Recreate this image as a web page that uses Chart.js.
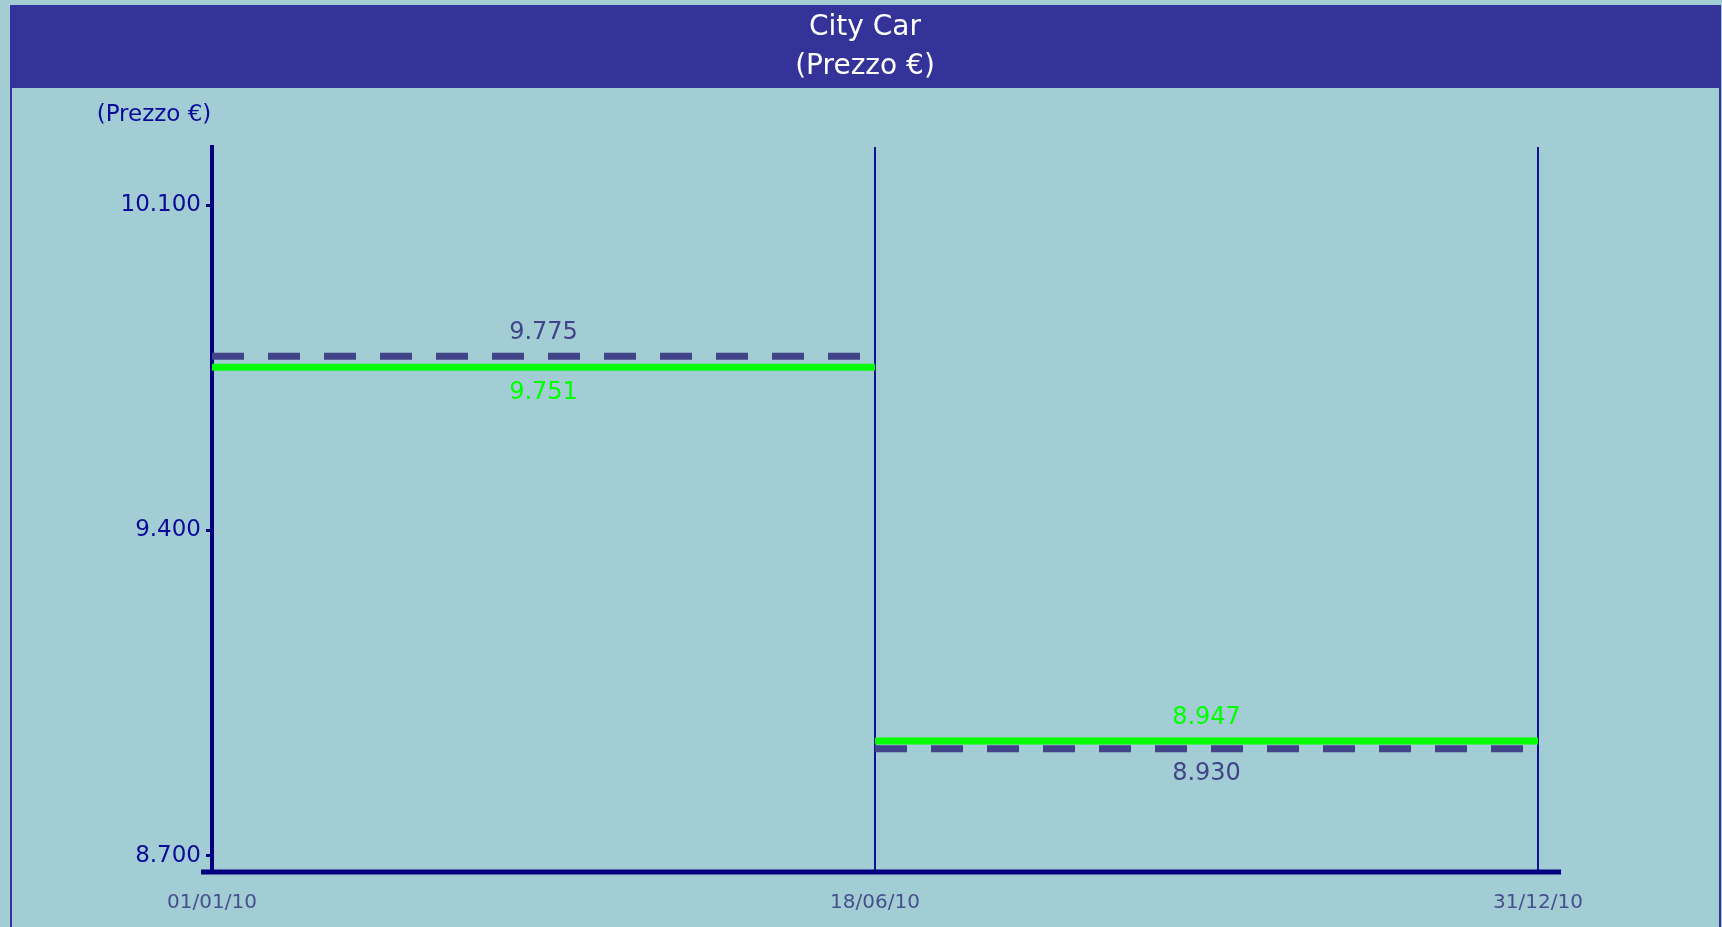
<!DOCTYPE html>
<html>
<head>
<meta charset="utf-8">
<script src="https://cdn.jsdelivr.net/npm/chart.js@4.4.1/dist/chart.umd.min.js"></script>
<style>
  html, body { margin: 0; padding: 0; background: #a3cdd4; overflow: hidden; }
  canvas { display: block; }
</style>
</head>
<body>
<canvas id="prezzoChart" width="1722" height="927"></canvas>
<script>
// Dati
const periods = ['01/01/10', '18/06/10', '31/12/10'];
const prezzoPieno = [9751, 8947];          // linea verde continua
const prezzoTratteggiato = [9775, 8930];   // linea tratteggiata
const yTicks = [8700, 9400, 10100];
const titleLines = ['City Car', '(Prezzo €)'];

const NAVY = '#000080';
const GREEN = '#00ff00';
const DASH = '#414489';

// 10100 -> "10.100"
function fmt(v) {
    return String(v).replace(/\B(?=(\d{3})+(?!\d))/g, '.');
}

// each value is a flat segment between two consecutive dates
function segmentPoints(values) {
    const pts = [];
    values.forEach((v, i) => {
        pts.push({ x: i, y: v }, { x: i + 1, y: v });
        if (i < values.length - 1) pts.push({ x: i + 1, y: null });
    });
    return pts;
}

// background, blue frame and title band (title centred on the whole frame)
const framePlugin = {
    id: 'frame',
    beforeDraw(chart) {
        const ctx = chart.ctx;
        ctx.save();
        ctx.fillStyle = '#a3cdd4';
        ctx.fillRect(0, 0, chart.width, chart.height);
        ctx.fillStyle = '#333399';
        ctx.fillRect(10, 5, 1711, 83);
        ctx.fillRect(10, 88, 2, chart.height - 88);
        ctx.fillRect(1719, 88, 2, chart.height - 88);

        ctx.fillStyle = '#ffffff';
        ctx.font = '28px "DejaVu Sans"';
        ctx.textAlign = 'center';
        ctx.textBaseline = 'middle';
        ctx.fillText(titleLines[0], 865, 28);
        ctx.fillText(titleLines[1], 865, 67);
        ctx.restore();
    }
};

// value labels on the segments and the axis caption
const labelsPlugin = {
    id: 'valueLabels',
    afterDraw(chart) {
        const ctx = chart.ctx;
        const x = chart.scales.x;
        const y = chart.scales.y;
        const area = chart.chartArea;
        ctx.save();

        // x axis line runs a bit past the plot on both sides
        ctx.strokeStyle = NAVY;
        ctx.lineWidth = 5;
        ctx.beginPath();
        ctx.moveTo(area.left - 11, area.bottom);
        ctx.lineTo(area.right + 23, area.bottom);
        ctx.stroke();

        ctx.font = '24px "DejaVu Sans"';
        ctx.textAlign = 'center';
        ctx.textBaseline = 'middle';
        prezzoPieno.forEach((v, i) => {
            const xm = (x.getPixelForValue(i) + x.getPixelForValue(i + 1)) / 2;
            const d = prezzoTratteggiato[i];
            ctx.fillStyle = GREEN;
            ctx.fillText(fmt(v), xm, y.getPixelForValue(v) + (v >= d ? -23 : 25));
            ctx.fillStyle = DASH;
            ctx.fillText(fmt(d), xm, y.getPixelForValue(d) + (d > v ? -23 : 25));
        });

        ctx.font = '23px "DejaVu Sans"';
        ctx.fillStyle = '#0a0a99';
        ctx.fillText('(Prezzo €)', area.left - 58, area.top - 32);
        ctx.restore();
    }
};

Chart.defaults.font.family = '"DejaVu Sans", Verdana, sans-serif';

const ctx = document.getElementById('prezzoChart').getContext('2d');
const chart = new Chart(ctx, {
    type: 'line',
    data: {
        datasets: [{
            data: segmentPoints(prezzoPieno),
            borderColor: GREEN,
            borderWidth: 7,
            pointRadius: 0,
            spanGaps: false
        }, {
            data: segmentPoints(prezzoTratteggiato),
            borderColor: DASH,
            borderWidth: 7,
            borderDash: [32, 24],
            borderCapStyle: 'butt',
            pointRadius: 0,
            spanGaps: false
        }]
    },
    options: {
        responsive: false,
        animation: false,
        devicePixelRatio: 1,
        layout: { padding: { left: 0, right: 184, top: 147, bottom: 0 } },
        plugins: {
            legend: { display: false },
            tooltip: { enabled: false },
            title: { display: false }
        },
        scales: {
            x: {
                type: 'linear',
                min: 0,
                max: periods.length - 1,
                afterBuildTicks: (scale) => {
                    scale.ticks = periods.map((p, i) => ({ value: i }));
                },
                afterFit: (scale) => { scale.height = 55; },
                grid: { color: '#12128c', lineWidth: 2, drawTicks: false },
                border: { display: false },
                ticks: {
                    color: '#46508c',
                    font: { size: 20 },
                    padding: 19,
                    maxRotation: 0,
                    callback: (v) => periods[v]
                }
            },
            y: {
                min: 8665,
                max: 10225,
                afterBuildTicks: (scale) => {
                    scale.ticks = yTicks.map(v => ({ value: v }));
                },
                afterFit: (scale) => { scale.width = 212; },
                grid: {
                    drawOnChartArea: false,
                    drawTicks: true,
                    tickLength: 6,
                    tickWidth: 3,
                    tickColor: NAVY
                },
                border: { display: true, color: NAVY, width: 4 },
                ticks: {
                    color: '#0a0a99',
                    font: { size: 23 },
                    padding: 5,
                    callback: (v) => fmt(v)
                }
            }
        }
    },
    plugins: [framePlugin, labelsPlugin]
});
</script>
</body>
</html>
